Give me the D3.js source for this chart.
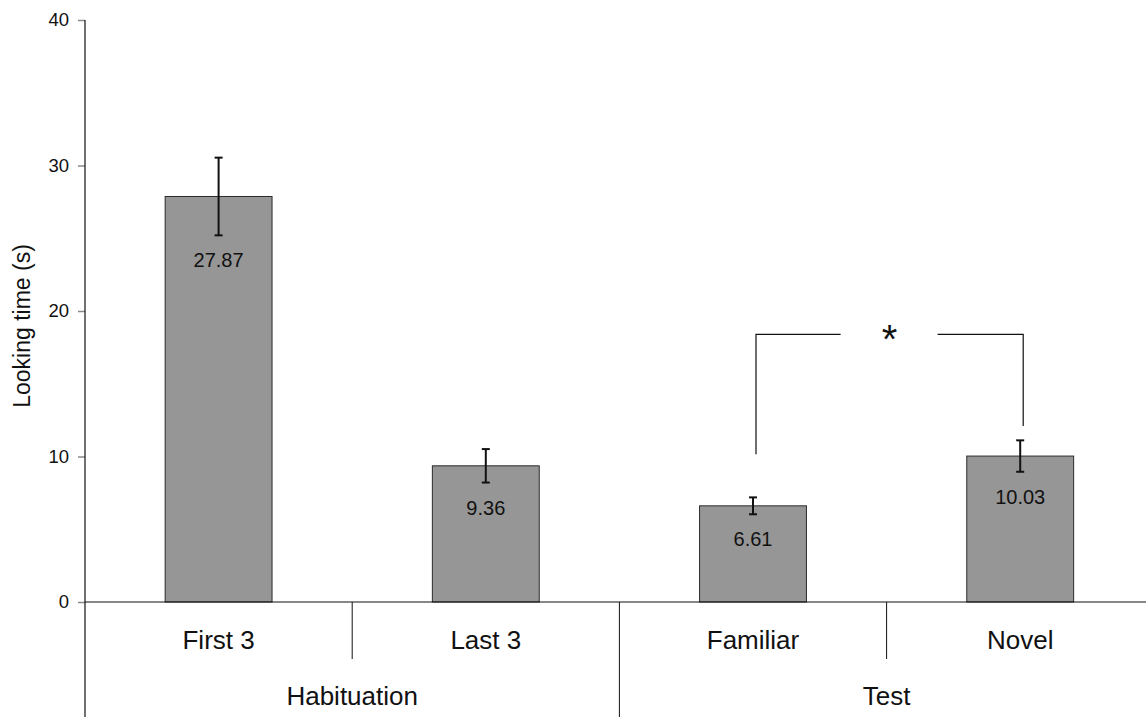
<!DOCTYPE html>
<html>
<head>
<meta charset="utf-8">
<script src="https://cdn.jsdelivr.net/npm/d3@7"></script>
<style>
  html, body { margin: 0; padding: 0; background: #ffffff; }
  svg { display: block; font-family: "Liberation Sans", Arial, sans-serif; }
</style>
</head>
<body>
<svg id="chart" width="1146" height="717"></svg>
<script>
// Looking times per condition (seconds) with error bar half-widths
const categories = ["First 3", "Last 3", "Familiar", "Novel"];
const groups = ["Habituation", "Habituation", "Test", "Test"];
const groupNames = ["Habituation", "Test"];
const values = [27.87, 9.36, 6.61, 10.03];
const errors = [2.67, 1.15, 0.58, 1.08];
const yTicks = [0, 10, 20, 30, 40];
const yLabel = "Looking time (s)";

// Significance bracket: from, to, top level, leg end levels, marker
const sigPair = ["Familiar", "Novel"];
const sigTop = 18.4;
const sigLegEnds = [10.15, 12.1];
const sigMark = "*";

const svg = d3.select("#chart");
const W = 1146, H = 717;
const plotLeft = 85, plotBottom = 602, plotTop = 20;

const y = d3.scaleLinear().domain([0, 40]).range([plotBottom, plotTop]);
const x = d3.scaleBand().domain(categories)
  .range([plotLeft, plotLeft + 4 * 267.2])
  .paddingInner(0.6).paddingOuter(0.3);
const step = x.step();

const ink = "#111";

// Y axis ticks and labels
const yAxis = d3.axisLeft(y).tickValues(yTicks).tickSize(7).tickPadding(9);
const gy = svg.append("g").attr("transform", `translate(${plotLeft},0)`).call(yAxis);
gy.select(".domain").remove();
gy.selectAll(".tick line").attr("stroke", "#8a8a8a").attr("stroke-width", 1.5);
gy.selectAll(".tick text").attr("font-size", 18.5).attr("fill", ink)
  .attr("font-family", "Liberation Sans, Arial, sans-serif");

// Y axis line continues down past the category rows
svg.append("line")
  .attr("x1", plotLeft).attr("x2", plotLeft)
  .attr("y1", y(40)).attr("y2", H)
  .attr("stroke", ink).attr("stroke-width", 1.2);

// Y axis title
svg.append("text")
  .attr("transform", `translate(22,${(y(40) + y(0)) / 2 + 15}) rotate(-90)`)
  .attr("text-anchor", "middle").attr("dominant-baseline", "central")
  .attr("font-size", 23).attr("fill", ink)
  .text(yLabel);

// Bars
svg.append("g").selectAll("rect").data(categories).join("rect")
  .attr("x", d => x(d))
  .attr("width", x.bandwidth())
  .attr("y", (d, i) => y(values[i]))
  .attr("height", (d, i) => y(0) - y(values[i]))
  .attr("fill", "#969696")
  .attr("stroke", "#2b2b2b").attr("stroke-width", 1);

// Error bars
const eb = svg.append("g").attr("stroke", ink).attr("stroke-width", 2);
categories.forEach((c, i) => {
  const cx = x(c) + x.bandwidth() / 2;
  const hi = y(values[i] + errors[i]), lo = y(values[i] - errors[i]);
  eb.append("line").attr("x1", cx).attr("x2", cx).attr("y1", hi).attr("y2", lo);
  eb.append("line").attr("x1", cx - 4).attr("x2", cx + 4).attr("y1", hi).attr("y2", hi);
  eb.append("line").attr("x1", cx - 4).attr("x2", cx + 4).attr("y1", lo).attr("y2", lo);
});

// Value labels inside the bars
svg.append("g").selectAll("text").data(categories).join("text")
  .attr("x", d => x(d) + x.bandwidth() / 2)
  .attr("y", (d, i) => y(values[i] - errors[i]) + 25)
  .attr("text-anchor", "middle").attr("dominant-baseline", "central")
  .attr("font-size", 20).attr("fill", ink)
  .text((d, i) => values[i].toFixed(2));

// Baseline
svg.append("line")
  .attr("x1", plotLeft).attr("x2", W)
  .attr("y1", y(0)).attr("y2", y(0))
  .attr("stroke", ink).attr("stroke-width", 1.2);

// Category separators (short) and group separators (full height)
categories.slice(0, -1).forEach((c, i) => {
  const sx = plotLeft + (i + 1) * step;
  const groupBreak = groups[i] !== groups[i + 1];
  svg.append("line")
    .attr("x1", sx).attr("x2", sx)
    .attr("y1", y(0)).attr("y2", groupBreak ? H : 659)
    .attr("stroke", ink).attr("stroke-width", 1);
});

// Category labels
svg.append("g").selectAll("text").data(categories).join("text")
  .attr("x", d => x(d) + x.bandwidth() / 2)
  .attr("y", 640)
  .attr("text-anchor", "middle").attr("dominant-baseline", "central")
  .attr("font-size", 26).attr("fill", ink)
  .text(d => d);

// Group labels
groupNames.forEach(g => {
  const members = categories.filter((c, i) => groups[i] === g);
  const gx0 = x(members[0]) - step * 0.3;
  const gx1 = x(members[members.length - 1]) + x.bandwidth() + step * 0.3;
  svg.append("text")
    .attr("x", (gx0 + gx1) / 2).attr("y", 696)
    .attr("text-anchor", "middle").attr("dominant-baseline", "central")
    .attr("font-size", 26).attr("fill", ink)
    .text(g);
});

// Significance bracket
const legA = x(sigPair[0]) + x.bandwidth() / 2 + 3;
const legB = x(sigPair[1]) + x.bandwidth() / 2 + 3;
const mid = (legA + legB) / 2;
const br = svg.append("g").attr("stroke", ink).attr("stroke-width", 1.2).attr("fill", "none");
br.append("path").attr("d", `M${legA},${y(sigLegEnds[0])}V${y(sigTop)}H${mid - 49}`);
br.append("path").attr("d", `M${legB},${y(sigLegEnds[1])}V${y(sigTop)}H${mid + 48}`);
svg.append("text")
  .attr("x", mid).attr("y", y(sigTop) + 19)
  .attr("text-anchor", "middle")
  .attr("font-size", 40).attr("fill", ink)
  .text(sigMark);
</script>
</body>
</html>
